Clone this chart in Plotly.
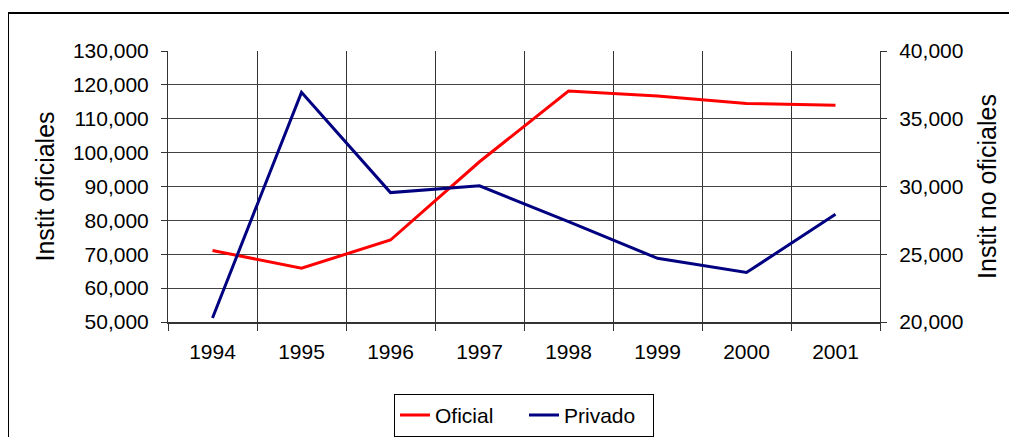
import plotly.graph_objects as go

years = ["1994", "1995", "1996", "1997", "1998", "1999", "2000", "2001"]
oficial = [71100, 65900, 74200, 97300, 118200, 116700, 114500, 114000]
privado = [20300, 36950, 29550, 30050, 27400, 24700, 23650, 27950]

fnt = dict(family="Liberation Sans, Arial, sans-serif", size=21, color="black")

fig = go.Figure()
fig.add_trace(go.Scatter(x=years, y=oficial, name="Oficial", mode="lines",
                         line=dict(color="#FF0000", width=3)))
fig.add_trace(go.Scatter(x=years, y=privado, name="Privado", mode="lines",
                         line=dict(color="#000080", width=3), yaxis="y2"))

fig.update_layout(
    width=1017, height=437,
    margin=dict(l=160, r=145, t=43, b=123, autoexpand=False),
    paper_bgcolor="white", plot_bgcolor="white",
    font=fnt,
    xaxis=dict(type="category", range=[-0.5, 7.5], tickson="boundaries", ticks="outside",
               ticklen=7, tickcolor="#333", showgrid=True, gridcolor="#333", gridwidth=1,
               showline=True, linecolor="#333", linewidth=2, automargin=False,
               ticklabelstandoff=10),
    yaxis=dict(title=dict(text="Instit oficiales", standoff=11), range=[50000, 130000],
               dtick=10000, tickformat=",", ticks="outside", ticklen=6, tickcolor="#333",
               showgrid=True, gridcolor="#444", gridwidth=1, zeroline=False, automargin=False,
               showline=True, linecolor="#333", linewidth=1, ticklabelstandoff=8),
    yaxis2=dict(title=dict(text="Instit no oficiales", standoff=16), overlaying="y", side="right",
                range=[20000, 40000], dtick=5000, tickformat=",", ticks="outside",
                ticklen=6, tickcolor="#333", showgrid=False, zeroline=False, automargin=False,
                showline=True, linecolor="#333", linewidth=1, ticklabelstandoff=8),
    legend=dict(orientation="h", x=0.5, xanchor="center", y=-0.265, yanchor="top",
                entrywidth=84, entrywidthmode="pixels",
                bordercolor="black", borderwidth=1, font=fnt),
    shapes=[dict(type="rect", xref="paper", yref="paper", x0=-0.2247, x1=1.19,
                 y0=-0.45, y1=1.1402, line=dict(color="black", width=2))],
)

fig.write_html("out.html")
